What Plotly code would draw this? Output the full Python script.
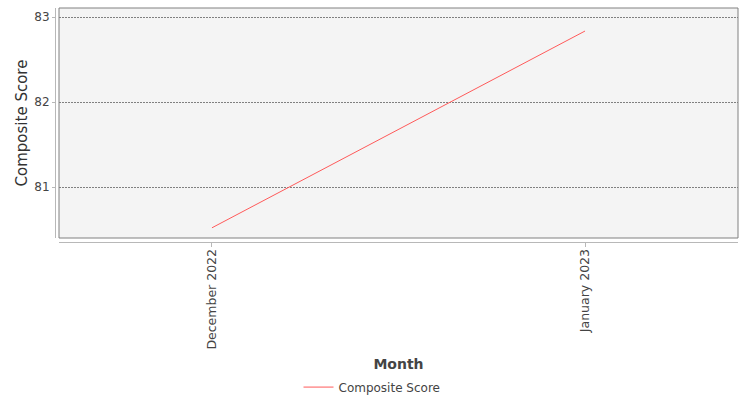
import plotly.graph_objects as go

months = ["December 2022", "January 2023"]
composite_score = [80.52, 82.835]
series_name = "Composite Score"
y_ticks = [81, 82, 83]

W, H = 750, 400
L, R, T, B = 55, 12, 8, 158
plot_w = W - L - R
plot_h = H - T - B
x_dom0 = 4 / plot_w
y_dom0 = 4 / plot_h

fig = go.Figure()
fig.add_trace(go.Scatter(
    x=months, y=composite_score, mode="lines", name=series_name,
    line=dict(color="#ff5a5a", width=1),
))

fig.add_shape(type="rect", xref="x domain", yref="y domain",
              x0=0, x1=1, y0=0, y1=1, layer="below",
              fillcolor="#f4f4f4", line=dict(color="#808080", width=1))

font = "DejaVu Sans"
fig.update_layout(
    width=W, height=H,
    margin=dict(l=L, r=R, t=T, b=B, autoexpand=False),
    paper_bgcolor="white", plot_bgcolor="white",
    font=dict(family=font, color="#444444", size=11),
    showlegend=True,
    legend=dict(orientation="h", x=(372 - L) / plot_w, xanchor="center", y=-0.62, yanchor="middle",
                itemwidth=30,
                font=dict(size=12, color="#444444"), bgcolor="rgba(0,0,0,0)"),
    xaxis=dict(
        domain=[x_dom0, 1], anchor="free", position=0, automargin=False,
        type="category", range=[-0.41, 1.41],
        showline=True, linecolor="#b8b8b8", linewidth=1,
        ticks="outside", ticklen=4, tickcolor="#b8b8b8",
        tickangle=-90, tickfont=dict(size=12.5, color="#444444"),
        ticklabelstandoff=-3,
        showgrid=False, zeroline=False,
        title=dict(text="<b>Month</b>", font=dict(size=14, color="#444444"), standoff=10),
    ),
    yaxis=dict(
        domain=[y_dom0, 1], anchor="free", position=0, automargin=False,
        range=[80.4, 83.106], tickvals=y_ticks,
        showline=True, linecolor="#b8b8b8", linewidth=1,
        ticks="outside", ticklen=3, tickcolor="#b8b8b8",
        tickfont=dict(size=12, color="#444444"),
        showgrid=True, gridcolor="#808080", griddash="2px,1px", gridwidth=1,
        zeroline=False,
        title=dict(text="Composite Score", font=dict(size=15, color="#333333"), standoff=2),
    ),
)

fig.write_html("out.html", config={"displayModeBar": False},
               post_script="document.body.style.margin='0';")
